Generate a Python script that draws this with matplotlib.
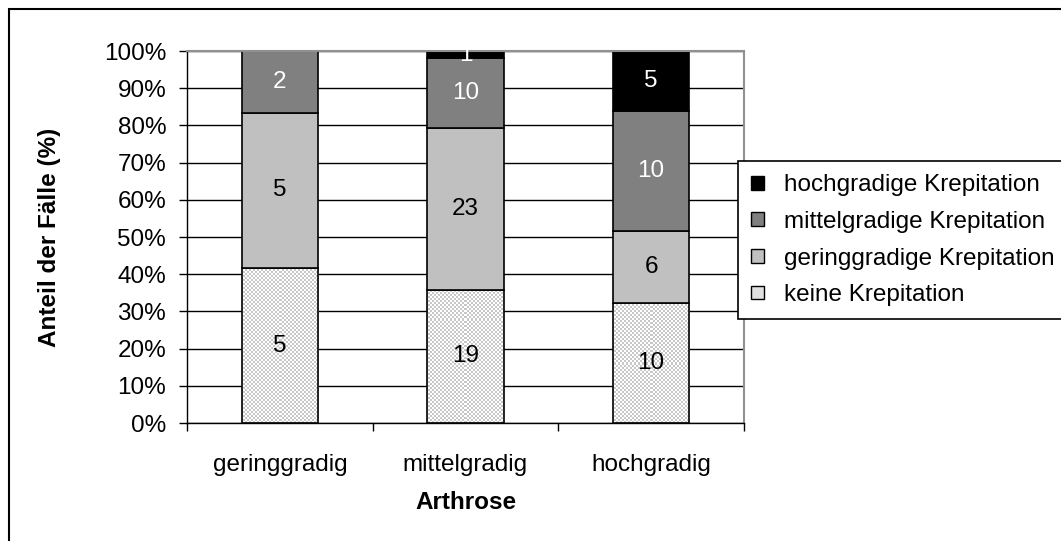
import numpy as np
import matplotlib
matplotlib.use("Agg")
import matplotlib.pyplot as plt
from matplotlib.patches import Patch, Rectangle

plt.rcParams['font.family'] = ['Liberation Sans', 'DejaVu Sans']

categories = ["geringgradig", "mittelgradig", "hochgradig"]
series_names = ["keine Krepitation", "geringgradige Krepitation",
                "mittelgradige Krepitation", "hochgradige Krepitation"]
keine = [5, 19, 10]
gering = [5, 23, 6]
mittel = [2, 10, 10]
hoch = [0, 1, 5]
y_ticks = [0, 10, 20, 30, 40, 50, 60, 70, 80, 90, 100]

counts = np.array([keine, gering, mittel, hoch], dtype=float)
totals = counts.sum(axis=0)
shares = counts / totals * 100

W, H = 1061, 541
fig = plt.figure(figsize=(W / 100, H / 100), dpi=100)
ax = fig.add_axes([187 / W, 1 - 423 / H, (744 - 187) / W, (423 - 51) / H])

x = np.arange(len(categories))
colors = ["none", "#c0c0c0", "#808080", "#000000"]
text_colors = ["black", "black", "white", "white"]
fs = 17.5

bottom = np.zeros(len(categories))
containers = []
for i in range(4):
    bc = ax.bar(x, shares[i], 0.41, bottom=bottom, color=colors[i],
                edgecolor="black", linewidth=1.2, zorder=1)
    labels = [str(int(v)) if v > 0 else "" for v in counts[i]]
    txts = ax.bar_label(bc, labels=labels, label_type="center",
                        color=text_colors[i], fontsize=fs)
    for t in txts:
        t.set_clip_on(True)
    containers.append(bc)
    bottom += shares[i]

# checkered fill for "keine Krepitation"
nx, ny = 279, 186
yy, xx = np.mgrid[0:ny, 0:nx]
checker = np.where((xx + yy) % 2 == 0, 0.78, 1.0)
for bar in containers[0]:
    im = ax.imshow(checker, cmap="gray", vmin=0, vmax=1, extent=(-0.5, 2.5, 0, 100),
                   aspect="auto", interpolation="nearest", zorder=0.8)
    im.set_clip_path(bar)

ax.set_xlim(-0.5, 2.5)
ax.set_ylim(0, 100)
ax.set_yticks(y_ticks)
ax.set_yticklabels([f"{v}%" for v in y_ticks], fontsize=fs)
ax.set_xticks([-0.5, 0.5, 1.5, 2.5])
ax.set_xticklabels([])
ax.set_xticks(x, minor=True)
ax.set_xticklabels(categories, minor=True, fontsize=fs)
ax.tick_params(axis="x", which="major", length=6, width=1, direction="out")
ax.tick_params(axis="x", which="minor", length=0, pad=22)
ax.tick_params(axis="y", length=6, width=1, pad=9)

ax.set_axisbelow(True)
ax.yaxis.grid(True, color="black", linewidth=1)
for side in ["top", "right"]:
    ax.spines[side].set_color("#909090")
    ax.spines[side].set_linewidth(1.5)
for side in ["left", "bottom"]:
    ax.spines[side].set_color("black")
    ax.spines[side].set_linewidth(1)

ax.set_ylabel("Anteil der Fälle (%)", fontsize=fs, fontweight="bold", labelpad=31)
ax.set_xlabel("Arthrose", fontsize=fs, fontweight="bold", labelpad=11)

handles = [Patch(facecolor="#000000", edgecolor="black"),
           Patch(facecolor="#808080", edgecolor="black"),
           Patch(facecolor="#c0c0c0", edgecolor="black"),
           Patch(facecolor="#e0e0e0", edgecolor="black")]
leg = fig.legend(handles, series_names[::-1], loc="upper left",
                 bbox_to_anchor=(738 / W, 1 - 161 / H), borderaxespad=0,
                 fontsize=fs, frameon=True, fancybox=False, edgecolor="black",
                 framealpha=1, handlelength=0.5, handleheight=0.5,
                 handletextpad=0.85, borderpad=0.55, labelspacing=0.6)
leg.get_frame().set_linewidth(1.2)

fig.patches.append(Rectangle((8.5 / W, -0.1), 1.2, 1.1 - 9.5 / H,
                             transform=fig.transFigure, fill=False,
                             edgecolor="black", linewidth=1.5))

fig.savefig("out.png", dpi=100)
